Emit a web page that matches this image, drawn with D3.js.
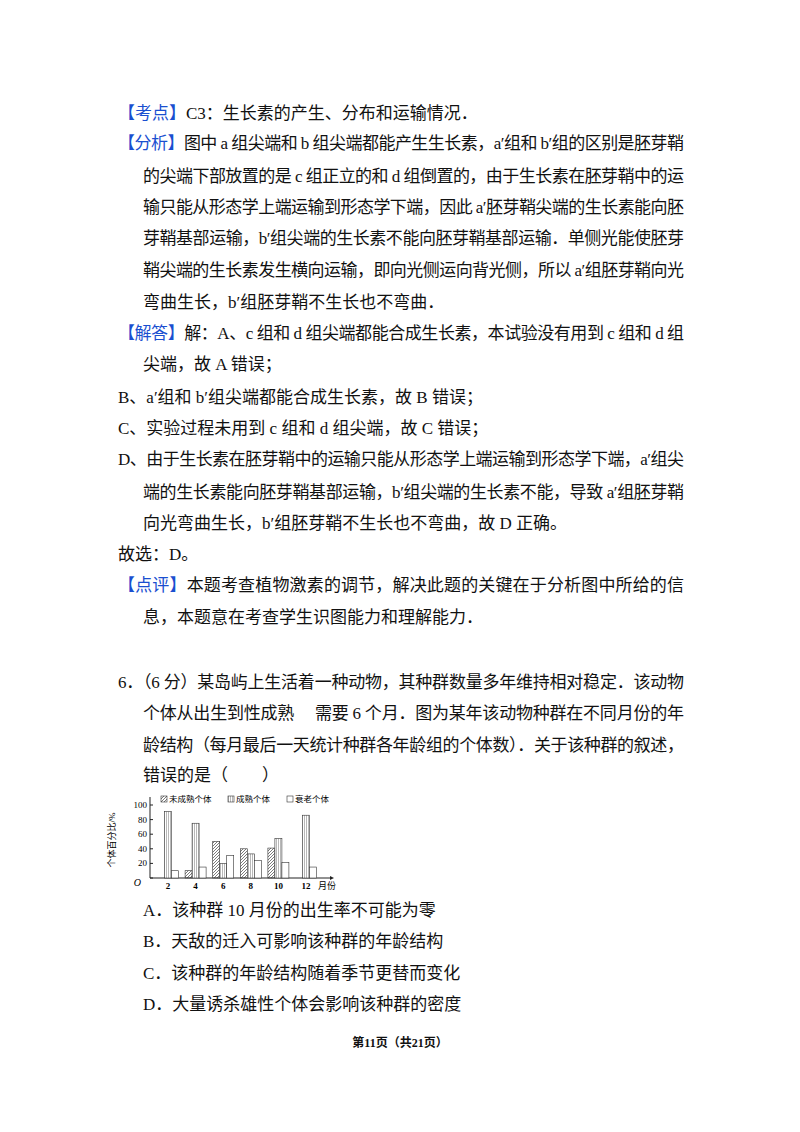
<!DOCTYPE html>
<html><head><meta charset="utf-8">
<script src="https://cdn.jsdelivr.net/npm/d3@7"></script>
<style>body{margin:0;background:#fff}</style></head>
<body><svg id="s" width="800" height="1132"></svg>
<script>
const months=[2,4,6,8,10,12];
const immature=[0,10,50,40,41,0];
const mature=[91,75,20,33,54,86];
const old=[10,15,31,24,21,15];
const yTicks=[0,20,40,60,80,100];
const legend=["未成熟个体","成熟个体","衰老个体"];

const L=118, I=143;
const lines=[
 {y:119,x:L,t:[["【考点】","b"],["C3：生长素的产生、分布和运输情况．"]]},
 {y:149,x:L,j:1,t:[["【分析】","b"],["图中 a 组尖端和 b 组尖端都能产生生长素，a′组和 b′组的区别是胚芽鞘"]]},
 {y:182,x:I,j:1,t:[["的尖端下部放置的是 c 组正立的和 d 组倒置的，由于生长素在胚芽鞘中的运"]]},
 {y:213,x:I,j:1,t:[["输只能从形态学上端运输到形态学下端，因此 a′胚芽鞘尖端的生长素能向胚"]]},
 {y:244,x:I,j:1,t:[["芽鞘基部运输，b′组尖端的生长素不能向胚芽鞘基部运输．单侧光能使胚芽"]]},
 {y:276,x:I,j:1,t:[["鞘尖端的生长素发生横向运输，即向光侧运向背光侧，所以 a′组胚芽鞘向光"]]},
 {y:308,x:I,t:[["弯曲生长，b′组胚芽鞘不生长也不弯曲．"]]},
 {y:339,x:L,j:1,t:[["【解答】","b"],["解：A、c 组和 d 组尖端都能合成生长素，本试验没有用到 c 组和 d 组"]]},
 {y:370,x:I,t:[["尖端，故 A 错误；"]]},
 {y:403,x:L,t:[["B、a′组和 b′组尖端都能合成生长素，故 B 错误；"]]},
 {y:434,x:L,t:[["C、实验过程未用到 c 组和 d 组尖端，故 C 错误；"]]},
 {y:465,x:L,j:1,t:[["D、由于生长素在胚芽鞘中的运输只能从形态学上端运输到形态学下端，a′组尖"]]},
 {y:498,x:I,j:1,t:[["端的生长素能向胚芽鞘基部运输，b′组尖端的生长素不能，导致 a′组胚芽鞘"]]},
 {y:529,x:I,t:[["向光弯曲生长，b′组胚芽鞘不生长也不弯曲，故 D 正确。"]]},
 {y:560,x:L,t:[["故选：D。"]]},
 {y:591,x:L,j:1,t:[["【点评】","b"],["本题考查植物激素的调节，解决此题的关键在于分析图中所给的信"]]},
 {y:623,x:I,t:[["息，本题意在考查学生识图能力和理解能力．"]]},
 {y:688,x:L,j:1,t:[["6．（6 分）某岛屿上生活着一种动物，其种群数量多年维持相对稳定．该动物"]]},
 {y:719,x:I,j:1,t:[["个体从出生到性成熟　 需要 6 个月．图为某年该动物种群在不同月份的年"]]},
 {y:751,x:I,j:1,t:[["龄结构（每月最后一天统计种群各年龄组的个体数）．关于该种群的叙述，"]]},
 {y:781,x:I,t:[["错误的是（　　）"]]},
 {y:916,x:I,t:[["A．该种群 10 月份的出生率不可能为零"]]},
 {y:947,x:I,t:[["B．天敌的迁入可影响该种群的年龄结构"]]},
 {y:979,x:I,t:[["C．该种群的年龄结构随着季节更替而变化"]]},
 {y:1010,x:I,t:[["D．大量诱杀雄性个体会影响该种群的密度"]]}
];
const svg=d3.select("#s");
const ff="'Liberation Serif','Noto Sans CJK SC',serif";
lines.forEach(l=>{
  const t=svg.append("text").attr("x",l.x).attr("y",l.y).attr("font-family",ff).attr("font-size",17).attr("fill","#111");
  if(l.j) t.attr("textLength",684-l.x).attr("lengthAdjust","spacing");
  l.t.forEach(s=>t.append("tspan").text(s[0]).attr("fill",s[1]?"#1a4fd0":"#111"));
});
svg.append("text").attr("x",400).attr("y",1047).attr("text-anchor","middle").attr("font-family",ff).attr("font-size",12).attr("font-weight","bold").attr("fill","#111").text("第11页（共21页）");

// chart
const defs=svg.append("defs");
const ph=defs.append("pattern").attr("id","hatch").attr("patternUnits","userSpaceOnUse").attr("width",3).attr("height",3);
ph.append("path").attr("d","M-1,1 l2,-2 M0,3 l3,-3 M2,4 l2,-2").attr("stroke","#444").attr("stroke-width",0.7);
const pv=defs.append("pattern").attr("id","vert").attr("patternUnits","userSpaceOnUse").attr("width",2).attr("height",2);
pv.append("rect").attr("width",2).attr("height",2).attr("fill","#fff");
pv.append("line").attr("x1",0.5).attr("x2",0.5).attr("y1",0).attr("y2",2).attr("stroke","#888").attr("stroke-width",0.6);

const x=d3.scaleLinear().domain([2,12]).range([168,306]);
const y=d3.scaleLinear().domain([0,100]).range([878,805]);
const bw=7;
const g=svg.append("g");
g.append("line").attr("x1",150).attr("x2",330).attr("y1",y(0)).attr("y2",y(0)).attr("stroke","#222");
g.append("path").attr("d",`M330,${y(0)-2}L334,${y(0)}L330,${y(0)+2}Z`).attr("fill","#222");
g.append("line").attr("x1",150).attr("x2",150).attr("y1",y(0)).attr("y2",797).attr("stroke","#222");
yTicks.forEach(v=>{
  g.append("line").attr("x1",150).attr("x2",153).attr("y1",y(v)).attr("y2",y(v)).attr("stroke","#222");
  if(v>0) g.append("text").attr("x",147).attr("y",y(v)+3).attr("text-anchor","end").attr("font-size",9).attr("font-family",ff).text(v);
});
g.append("text").attr("x",141).attr("y",y(0)+8).attr("text-anchor","end").attr("font-size",10).attr("font-style","italic").attr("font-family",ff).text("O");
months.forEach((m,i)=>{
  g.append("text").attr("x",x(m)).attr("y",889).attr("text-anchor","middle").attr("font-size",9).attr("font-weight","bold").attr("font-family",ff).text(m);
  [[immature,"url(#hatch)",-1],[mature,"url(#vert)",0],[old,"#fff",1]].forEach(([arr,f,o])=>{
    if(arr[i]>0) g.append("rect").attr("x",x(m)-bw/2+o*bw).attr("y",y(arr[i])).attr("width",bw).attr("height",y(0)-y(arr[i])).attr("fill",f).attr("stroke","#333").attr("stroke-width",0.6);
  });
});
g.append("text").attr("x",318).attr("y",889).attr("font-size",9).attr("font-family",ff).text("月份");
g.append("text").attr("transform","translate(115,840) rotate(-90)").attr("text-anchor","middle").attr("font-size",9).attr("font-family",ff).text("个体百分比/%");
const lf=["url(#hatch)","url(#vert)","#fff"], lx=[161,228,287];
legend.forEach((t,i)=>{
  g.append("rect").attr("x",lx[i]).attr("y",796).attr("width",6).attr("height",6).attr("fill",lf[i]).attr("stroke","#333").attr("stroke-width",0.6);
  g.append("text").attr("x",lx[i]+8).attr("y",802).attr("font-size",8.5).attr("font-family",ff).text(t);
});
</script></body></html>
